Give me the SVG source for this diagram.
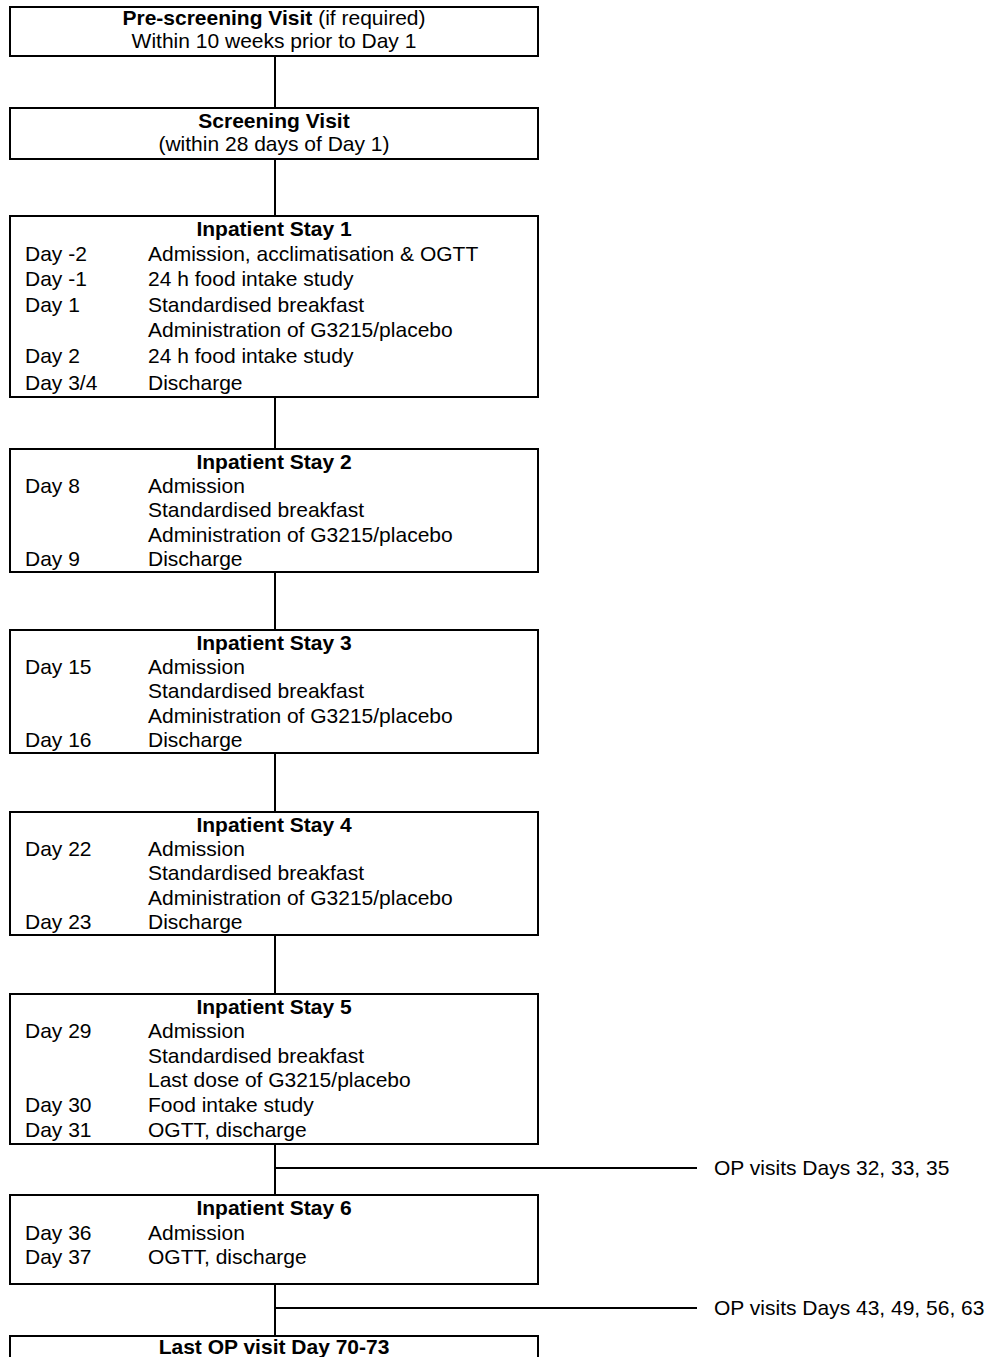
<svg xmlns="http://www.w3.org/2000/svg" width="989" height="1357" viewBox="0 0 989 1357">
<style>
text{font-family:"Liberation Sans",Arial,sans-serif;font-size:21px;fill:#000}
.c{text-anchor:middle}
.b{font-weight:bold}
.box{fill:#fff;stroke:#000;stroke-width:2}
line{stroke:#000;stroke-width:2}
</style>
<g id="connectors">
<line x1="275" y1="56" x2="275" y2="108"/>
<line x1="275" y1="159" x2="275" y2="216"/>
<line x1="275" y1="397" x2="275" y2="449"/>
<line x1="275" y1="572" x2="275" y2="630"/>
<line x1="275" y1="753" x2="275" y2="812"/>
<line x1="275" y1="935" x2="275" y2="994"/>
<line x1="275" y1="1144" x2="275" y2="1195"/>
<line x1="275" y1="1168" x2="697" y2="1168"/>
<line x1="275" y1="1284" x2="275" y2="1336"/>
<line x1="275" y1="1308" x2="697" y2="1308"/>
</g>
<g id="prescreening">
<rect class="box" x="10" y="7" width="528" height="49"/>
<text class="c" x="274" y="25"><tspan class="b">Pre-screening Visit</tspan> (if required)</text>
<text class="c" x="274" y="48">Within 10 weeks prior to Day 1</text>
</g>
<g id="screening">
<rect class="box" x="10" y="108" width="528" height="51"/>
<text class="c b" x="274" y="128">Screening Visit</text>
<text class="c" x="274" y="151">(within 28 days of Day 1)</text>
</g>
<g id="stay1">
<rect class="box" x="10" y="216" width="528" height="181"/>
<text class="c b" x="274" y="236">Inpatient Stay 1</text>
<text x="25" y="261">Day -2</text><text x="148" y="261">Admission, acclimatisation &amp; OGTT</text>
<text x="25" y="286">Day -1</text><text x="148" y="286">24 h food intake study</text>
<text x="25" y="312">Day 1</text><text x="148" y="312">Standardised breakfast</text>
<text x="148" y="337">Administration of G3215/placebo</text>
<text x="25" y="363">Day 2</text><text x="148" y="363">24 h food intake study</text>
<text x="25" y="390">Day 3/4</text><text x="148" y="390">Discharge</text>
</g>
<g id="stay2">
<rect class="box" x="10" y="449" width="528" height="123"/>
<text class="c b" x="274" y="469">Inpatient Stay 2</text>
<text x="25" y="493">Day 8</text><text x="148" y="493">Admission</text>
<text x="148" y="517">Standardised breakfast</text>
<text x="148" y="542">Administration of G3215/placebo</text>
<text x="25" y="566">Day 9</text><text x="148" y="566">Discharge</text>
</g>
<g id="stay3">
<rect class="box" x="10" y="630" width="528" height="123"/>
<text class="c b" x="274" y="650">Inpatient Stay 3</text>
<text x="25" y="674">Day 15</text><text x="148" y="674">Admission</text>
<text x="148" y="698">Standardised breakfast</text>
<text x="148" y="723">Administration of G3215/placebo</text>
<text x="25" y="747">Day 16</text><text x="148" y="747">Discharge</text>
</g>
<g id="stay4">
<rect class="box" x="10" y="812" width="528" height="123"/>
<text class="c b" x="274" y="832">Inpatient Stay 4</text>
<text x="25" y="856">Day 22</text><text x="148" y="856">Admission</text>
<text x="148" y="880">Standardised breakfast</text>
<text x="148" y="905">Administration of G3215/placebo</text>
<text x="25" y="929">Day 23</text><text x="148" y="929">Discharge</text>
</g>
<g id="stay5">
<rect class="box" x="10" y="994" width="528" height="150"/>
<text class="c b" x="274" y="1014">Inpatient Stay 5</text>
<text x="25" y="1038">Day 29</text><text x="148" y="1038">Admission</text>
<text x="148" y="1063">Standardised breakfast</text>
<text x="148" y="1087">Last dose of G3215/placebo</text>
<text x="25" y="1112">Day 30</text><text x="148" y="1112">Food intake study</text>
<text x="25" y="1137">Day 31</text><text x="148" y="1137">OGTT, discharge</text>
</g>
<g id="op1">
<text x="714" y="1175">OP visits Days 32, 33, 35</text>
</g>
<g id="stay6">
<rect class="box" x="10" y="1195" width="528" height="89"/>
<text class="c b" x="274" y="1215">Inpatient Stay 6</text>
<text x="25" y="1240">Day 36</text><text x="148" y="1240">Admission</text>
<text x="25" y="1264">Day 37</text><text x="148" y="1264">OGTT, discharge</text>
</g>
<g id="op2">
<text x="714" y="1315">OP visits Days 43, 49, 56, 63</text>
</g>
<g id="last">
<rect class="box" x="10" y="1336" width="528" height="40"/>
<text class="c b" x="274" y="1354">Last OP visit Day 70-73</text>
</g>
</svg>
